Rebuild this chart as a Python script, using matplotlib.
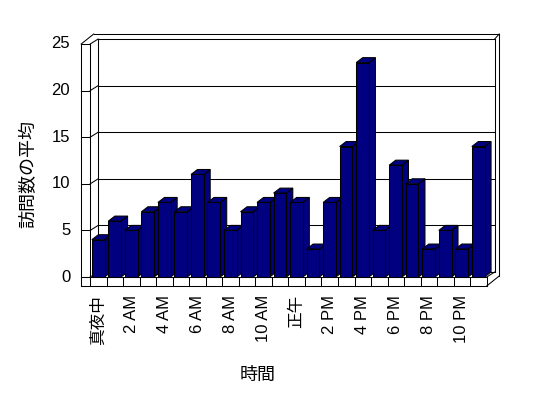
import matplotlib
matplotlib.use('Agg')
import matplotlib.pyplot as plt
from matplotlib.patches import Polygon

plt.rcParams['font.family'] = ['Liberation Sans', 'Noto Sans CJK JP', 'DejaVu Sans']

# data
hours = list(range(24))
visits = [4, 6, 5, 7, 8, 7, 11, 8, 5, 7, 8, 9, 8, 3, 8, 14, 23, 5, 12, 10, 3, 5, 3, 14]
tick_labels = ['真夜中', '2 AM', '4 AM', '6 AM', '8 AM', '10 AM',
               '正午', '2 PM', '4 PM', '6 PM', '8 PM', '10 PM']
yticks = [0, 5, 10, 15, 20, 25]

W, H = 548, 398
fig = plt.figure(figsize=(W / 100, H / 100), dpi=100)
fig.patch.set_facecolor('white')

# front plane of the 3d box, in pixels
left, right, top, bottom = 90.2, 486.7, 44, 277
ax = fig.add_axes([left / W, 1 - bottom / H, (right - left) / W, (bottom - top) / H])
ax.set_xlim(-0.5, 23.5)
ax.set_ylim(0, 25)
ax.axis('off')

kx = 24 / (right - left)   # data units per pixel
ky = 25 / (bottom - top)

def P(x, y, d=(0, 0)):
    return (x + d[0] * kx, y + d[1] * ky)

B = (8, 5)      # back wall (inner)
O = (12.5, 10)  # outer edge of walls
BD = (6.5, 5)   # bar depth

x0, x1 = -0.5, 23.5
xw = x0 - 9 * kx     # outer face of left wall
yf = -9 * ky         # bottom of floor slab

LW = 0.75
lk = dict(color='black', lw=LW, clip_on=False, solid_capstyle='projecting')

def seg(a, b):
    ax.plot([a[0], b[0]], [a[1], b[1]], **lk)

# gridlines on back wall + left wall
for v in yticks:
    seg(P(x0, v, B), P(x1, v, B))
    seg(P(x0, v), P(x0, v, B))
    seg(P(xw, v), P(x0, v))
    ax.text(*P(xw, v, (-11, 0)), str(v), ha='right', va='center', fontsize=12)

# walls
seg(P(x0, 0, B), P(x0, 25, B))
seg(P(x1, 0, B), P(x1, 25, B))
seg(P(xw, yf), P(xw, 25))
seg(P(x0, 0), P(x0, 25))
seg(P(xw, 25), P(xw, 25, O))
seg(P(xw, 25, O), P(x1, 25, O))
seg(P(x1, 25, B), P(x1, 25, O))
seg(P(x1, 25, O), P(x1, yf, O))

# floor slab
seg(P(xw, yf), P(x1, yf))
seg(P(xw, 0), P(x1, 0))
seg(P(x1, yf), P(x1, yf, O))
seg(P(x1, 0), P(x1, 0, B))
for i in range(25):
    seg(P(i - 0.5, yf), P(i - 0.5, 0))

# bars
navy = '#000080'
bw = 0.77
for i, v in zip(hours, visits):
    a = i - 0.5 + 0.1
    b = a + bw
    side = [P(b, 0), P(b, 0, BD), P(b, v, BD), P(b, v)]
    topf = [P(a, v), P(b, v), P(b, v, BD), P(a, v, BD)]
    front = [P(a, 0), P(b, 0), P(b, v), P(a, v)]
    for poly in (side, topf, front):
        ax.add_patch(Polygon(poly, closed=True, facecolor=navy, edgecolor='black',
                             lw=LW, clip_on=False, zorder=3 + i * 0.01))

for k, lab in enumerate(tick_labels):
    ax.text(*P(2 * k, yf, (0, -9)), lab, rotation=90, ha='center', va='top', fontsize=12)

fig.text(258 / W, 1 - 375 / H, '時間', ha='center', va='center', fontsize=13)
fig.text(29 / W, 1 - 174 / H, '訪問数の平均', ha='center', va='center', rotation=90, fontsize=13)

fig.savefig('out.png', dpi=100)
